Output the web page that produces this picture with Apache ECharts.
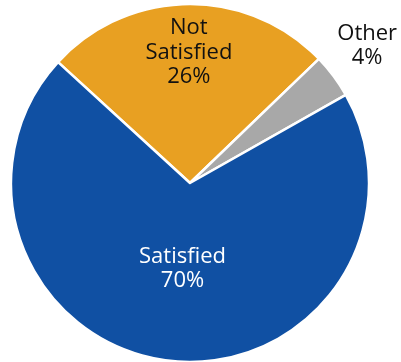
<!DOCTYPE html>
<html>
<head>
<meta charset="utf-8">
<script src="https://cdn.jsdelivr.net/npm/echarts@6/dist/echarts.min.js"></script>
<style>
  html, body { margin: 0; padding: 0; background: #ffffff; }
  #chart { width: 401px; height: 362px; }
</style>
</head>
<body>
<div id="chart"></div>
<script>
// Survey response shares (percent)
const categories = ['Not Satisfied', 'Other', 'Satisfied'];
const values = [26, 4, 70];
const labelNames = ['Not\nSatisfied', 'Other', 'Satisfied'];

const colors = ['#e8a022', '#a8a8a8', '#1050a3'];
const labelColors = ['#111111', '#111111', '#ffffff'];
const labelOffsets = [[0, -38], [103, -82], [3, -6]];

const chart = echarts.init(document.getElementById('chart'), null, { renderer: 'canvas' });

const data = categories.map((name, i) => ({
  name: name,
  value: values[i],
  itemStyle: { color: colors[i] },
  label: { color: labelColors[i], offset: labelOffsets[i] }
}));

chart.setOption({
  animation: false,
  series: [{
    type: 'pie',
    center: [190, 183],
    radius: 179,
    startAngle: 137.5,
    clockwise: true,
    avoidLabelOverlap: false,
    itemStyle: { borderColor: '#ffffff', borderWidth: 2.5 },
    label: {
      show: true,
      position: 'inside',
      fontFamily: 'Open Sans',
      fontSize: 22,
      lineHeight: 24.5,
      align: 'center',
      formatter: p => labelNames[p.dataIndex] + '\n' + p.value + '%'
    },
    labelLine: { show: false },
    emphasis: { disabled: true },
    data: data
  }]
});
</script>
</body>
</html>
